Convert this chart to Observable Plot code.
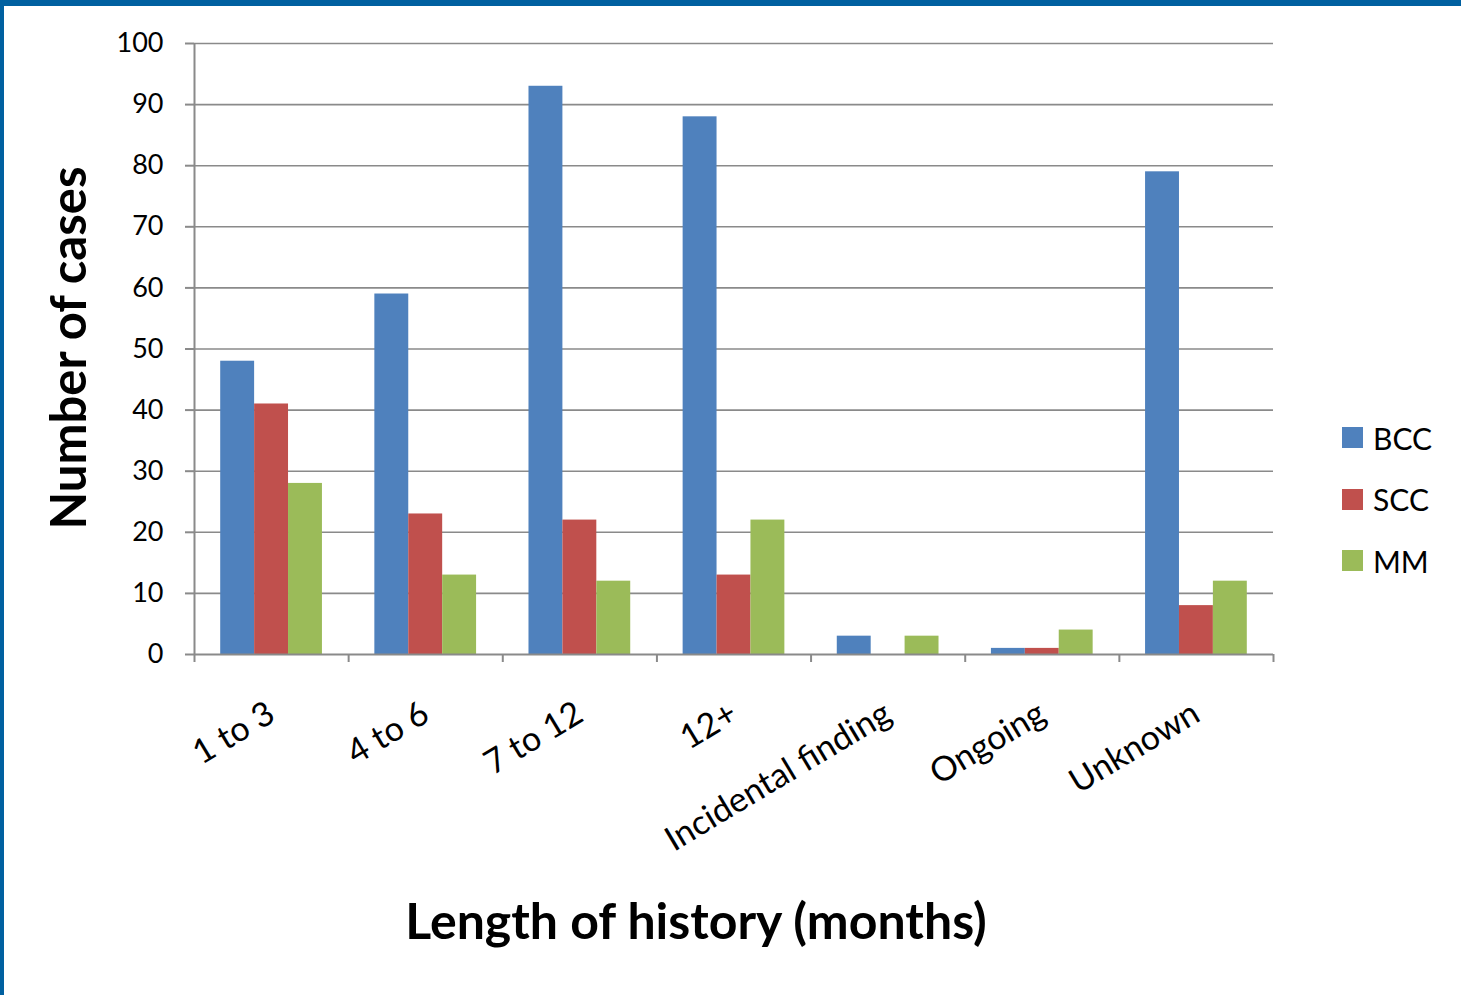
<!DOCTYPE html>
<html>
<head>
<meta charset="utf-8">
<script src="https://cdn.jsdelivr.net/npm/d3@7"></script>
<script src="https://cdn.jsdelivr.net/npm/@observablehq/plot@0.6"></script>
<style>
  html, body { margin: 0; padding: 0; background: #fff; }
  body { width: 1461px; height: 995px; position: relative; overflow: hidden; font-family: Lato, "Open Sans", sans-serif; color: #000; }
  #chart { position: absolute; left: 0; top: 0; }
  .bar-top { position: absolute; left: 0; top: 0; width: 1461px; height: 6px; background: #0060A0; }
  .bar-left { position: absolute; left: 0; top: 0; width: 4px; height: 995px; background: #0060A0; }
  .ytitle { position: absolute; left: 67px; top: 348px; transform: translate(-50%, -50%) rotate(-90deg); font-weight: bold; font-size: 49px; white-space: nowrap; }
  .xtitle { position: absolute; left: 696px; top: 920px; transform: translate(-50%, -50%); font-weight: bold; font-size: 50px; white-space: nowrap; }
  .legend { position: absolute; left: 1342px; top: 407px; }
  .legend .item { display: flex; align-items: center; height: 61.5px; margin-top: 0; font-size: 30px; }
  .legend .sw { width: 21px; height: 21px; margin-right: 10px; }
</style>
</head>
<body>
<div id="chart"></div>
<div class="ytitle">Number of cases</div>
<div class="xtitle">Length of history (months)</div>
<div class="legend" id="legend"></div>
<div class="bar-top"></div>
<div class="bar-left"></div>
<script>
const categories = ["1 to 3", "4 to 6", "7 to 12", "12+", "Incidental finding", "Ongoing", "Unknown"];
const series = ["BCC", "SCC", "MM"];
const colors = ["#4F81BD", "#C0504D", "#9BBB59"];
const bccValues = [48, 59, 93, 88, 3, 1, 79];
const sccValues = [41, 23, 22, 13, 0, 1, 8];
const mmValues = [28, 13, 12, 22, 3, 4, 12];
const yTicks = [0, 10, 20, 30, 40, 50, 60, 70, 80, 90, 100];

const valuesBySeries = [bccValues, sccValues, mmValues];
const groupPad = 0.17, barW = 0.22;
const rows = [];
categories.forEach((c, i) => {
  series.forEach((s, j) => {
    const x1 = i + groupPad + j * barW;
    rows.push({category: c, series: s, value: valuesBySeries[j][i], x1, x2: x1 + barW});
  });
});

const gray = "#8a8a8a";
const chart = Plot.plot({
  width: 1461,
  height: 995,
  marginTop: 43,
  marginBottom: 341,
  marginLeft: 194,
  marginRight: 188,
  style: {fontFamily: "Lato, 'Open Sans', sans-serif", color: "#000", background: "transparent", overflow: "visible"},
  x: {domain: [0, categories.length], axis: null},
  y: {domain: [0, 100], axis: null},
  color: {domain: series, range: colors},
  marks: [
    Plot.ruleY(yTicks.filter(d => d > 0), {stroke: gray, strokeWidth: 1.6}),
    Plot.rectY(rows, {x1: "x1", x2: "x2", y: "value", fill: "series"}),
    Plot.ruleY([0], {stroke: gray, strokeWidth: 2}),
    Plot.ruleX([0], {stroke: gray, strokeWidth: 2}),
    Plot.axisY({ticks: yTicks, tickSize: 9, tickPadding: 22, fontSize: 27, stroke: gray, strokeWidth: 2, label: null}),
    Plot.axisX({ticks: d3.range(categories.length + 1), tickSize: 8, tickFormat: () => "", stroke: gray, strokeWidth: 2, label: null}),
    Plot.axisX({ticks: categories.map((_, i) => i + 0.5), tickSize: 0, tickPadding: 56, tickRotate: -31,
      tickFormat: d => categories[Math.floor(d)], fontSize: 34, label: null})
  ]
});
document.getElementById("chart").appendChild(chart);

const legend = document.getElementById("legend");
series.forEach((s, j) => {
  const item = document.createElement("div");
  item.className = "item";
  item.innerHTML = `<div class="sw" style="background:${colors[j]}"></div><span>${s}</span>`;
  legend.appendChild(item);
});
</script>
</body>
</html>
